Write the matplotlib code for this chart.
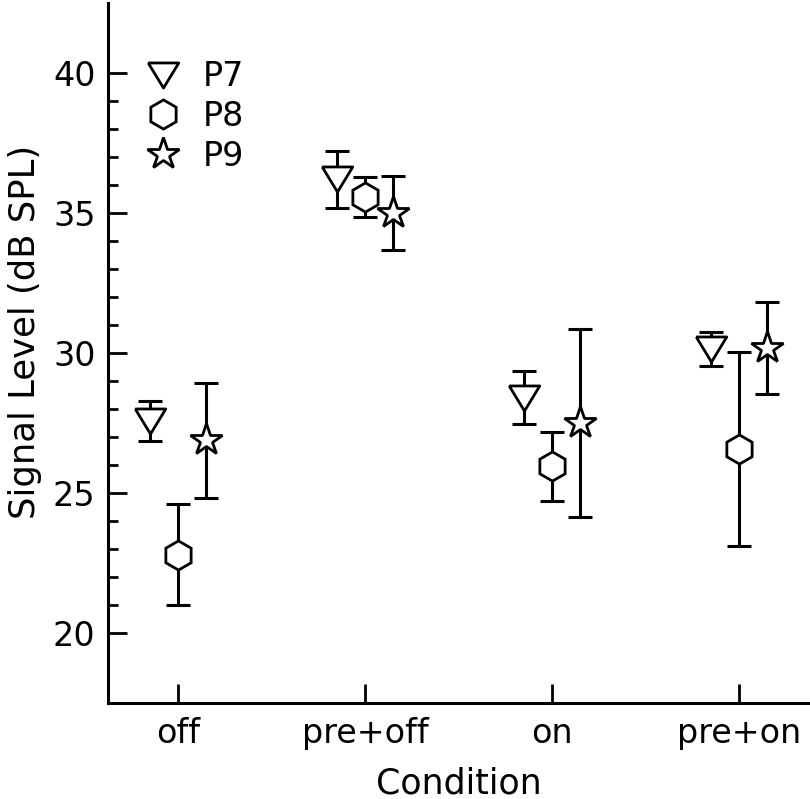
import matplotlib
matplotlib.use("Agg")
import matplotlib.pyplot as plt
from matplotlib.lines import Line2D

conditions = ["off", "pre+off", "on", "pre+on"]
listeners = ["P7", "P8", "P9"]

# mean signal level (dB SPL) per listener, one value per condition
p7_mean = [27.57, 36.20, 28.40, 30.13]
p8_mean = [22.80, 35.57, 25.95, 26.57]
p9_mean = [26.88, 35.00, 27.50, 30.17]

# error bar half-lengths
p7_err = [0.72, 1.03, 0.94, 0.61]
p8_err = [1.80, 0.73, 1.24, 3.45]
p9_err = [2.05, 1.33, 3.36, 1.64]

means = [p7_mean, p8_mean, p9_mean]
errs = [p7_err, p8_err, p9_err]
offsets = [-0.15, 0.0, 0.15]

tri_down = [(-1.0, 0.82), (1.0, 0.82), (0.0, -0.82), (-1.0, 0.82)]
markers = [tri_down, "h", "*"]
msizes = [22, 21, 24]

plt.rcParams["font.family"] = "DejaVu Sans"

fig = plt.figure(figsize=(8.10, 7.99), dpi=100)
ax = fig.add_axes([108 / 810, 96 / 799, 702 / 810, 700 / 799])

xs = list(range(1, len(conditions) + 1))
for m, e, off, mk, ms in zip(means, errs, offsets, markers, msizes):
    xx = [x + off for x in xs]
    ax.errorbar(xx, m, yerr=e, fmt="none", ecolor="black", elinewidth=2.2,
                capsize=8.7, capthick=2.2, zorder=2)
    ax.plot(xx, m, linestyle="none", marker=mk, markersize=ms,
            markerfacecolor="white", markeredgecolor="black",
            markeredgewidth=2.0, zorder=3)

ax.set_xlim(0.625, 4.38)
ax.set_ylim(17.5, 42.5)
ax.set_xticks(xs)
ax.set_xticklabels(conditions)
ax.set_yticks([20, 25, 30, 35, 40])
ax.set_yticks(range(21, 40), minor=True)
ax.tick_params(axis="both", which="major", direction="in", length=13.5,
               width=2.0, labelsize=24)
ax.tick_params(axis="y", which="major", pad=9)
ax.tick_params(axis="x", which="major", pad=10)
ax.tick_params(axis="y", which="minor", direction="in", length=7, width=2.0)
ax.tick_params(axis="x", which="minor", length=0)

for s in ["top", "right"]:
    ax.spines[s].set_visible(False)
for s in ["left", "bottom"]:
    ax.spines[s].set_linewidth(2.2)

ax.set_xlabel("Condition", fontsize=25, labelpad=12)
ax.set_ylabel("Signal Level (dB SPL)", fontsize=25.5)
ax.yaxis.set_label_coords(-0.094, 0.53)

handles = [Line2D([], [], linestyle="none", marker=mk, markersize=ms,
                  markerfacecolor="white", markeredgecolor="black",
                  markeredgewidth=2.0) for mk, ms in zip(markers, msizes)]
ax.legend(handles, listeners, loc="upper left", bbox_to_anchor=(0.054, 0.918),
          frameon=False, fontsize=24, handlelength=1.0, handletextpad=0.7,
          borderpad=0, borderaxespad=0, labelspacing=0.2)

fig.savefig("out.png", dpi=100)
